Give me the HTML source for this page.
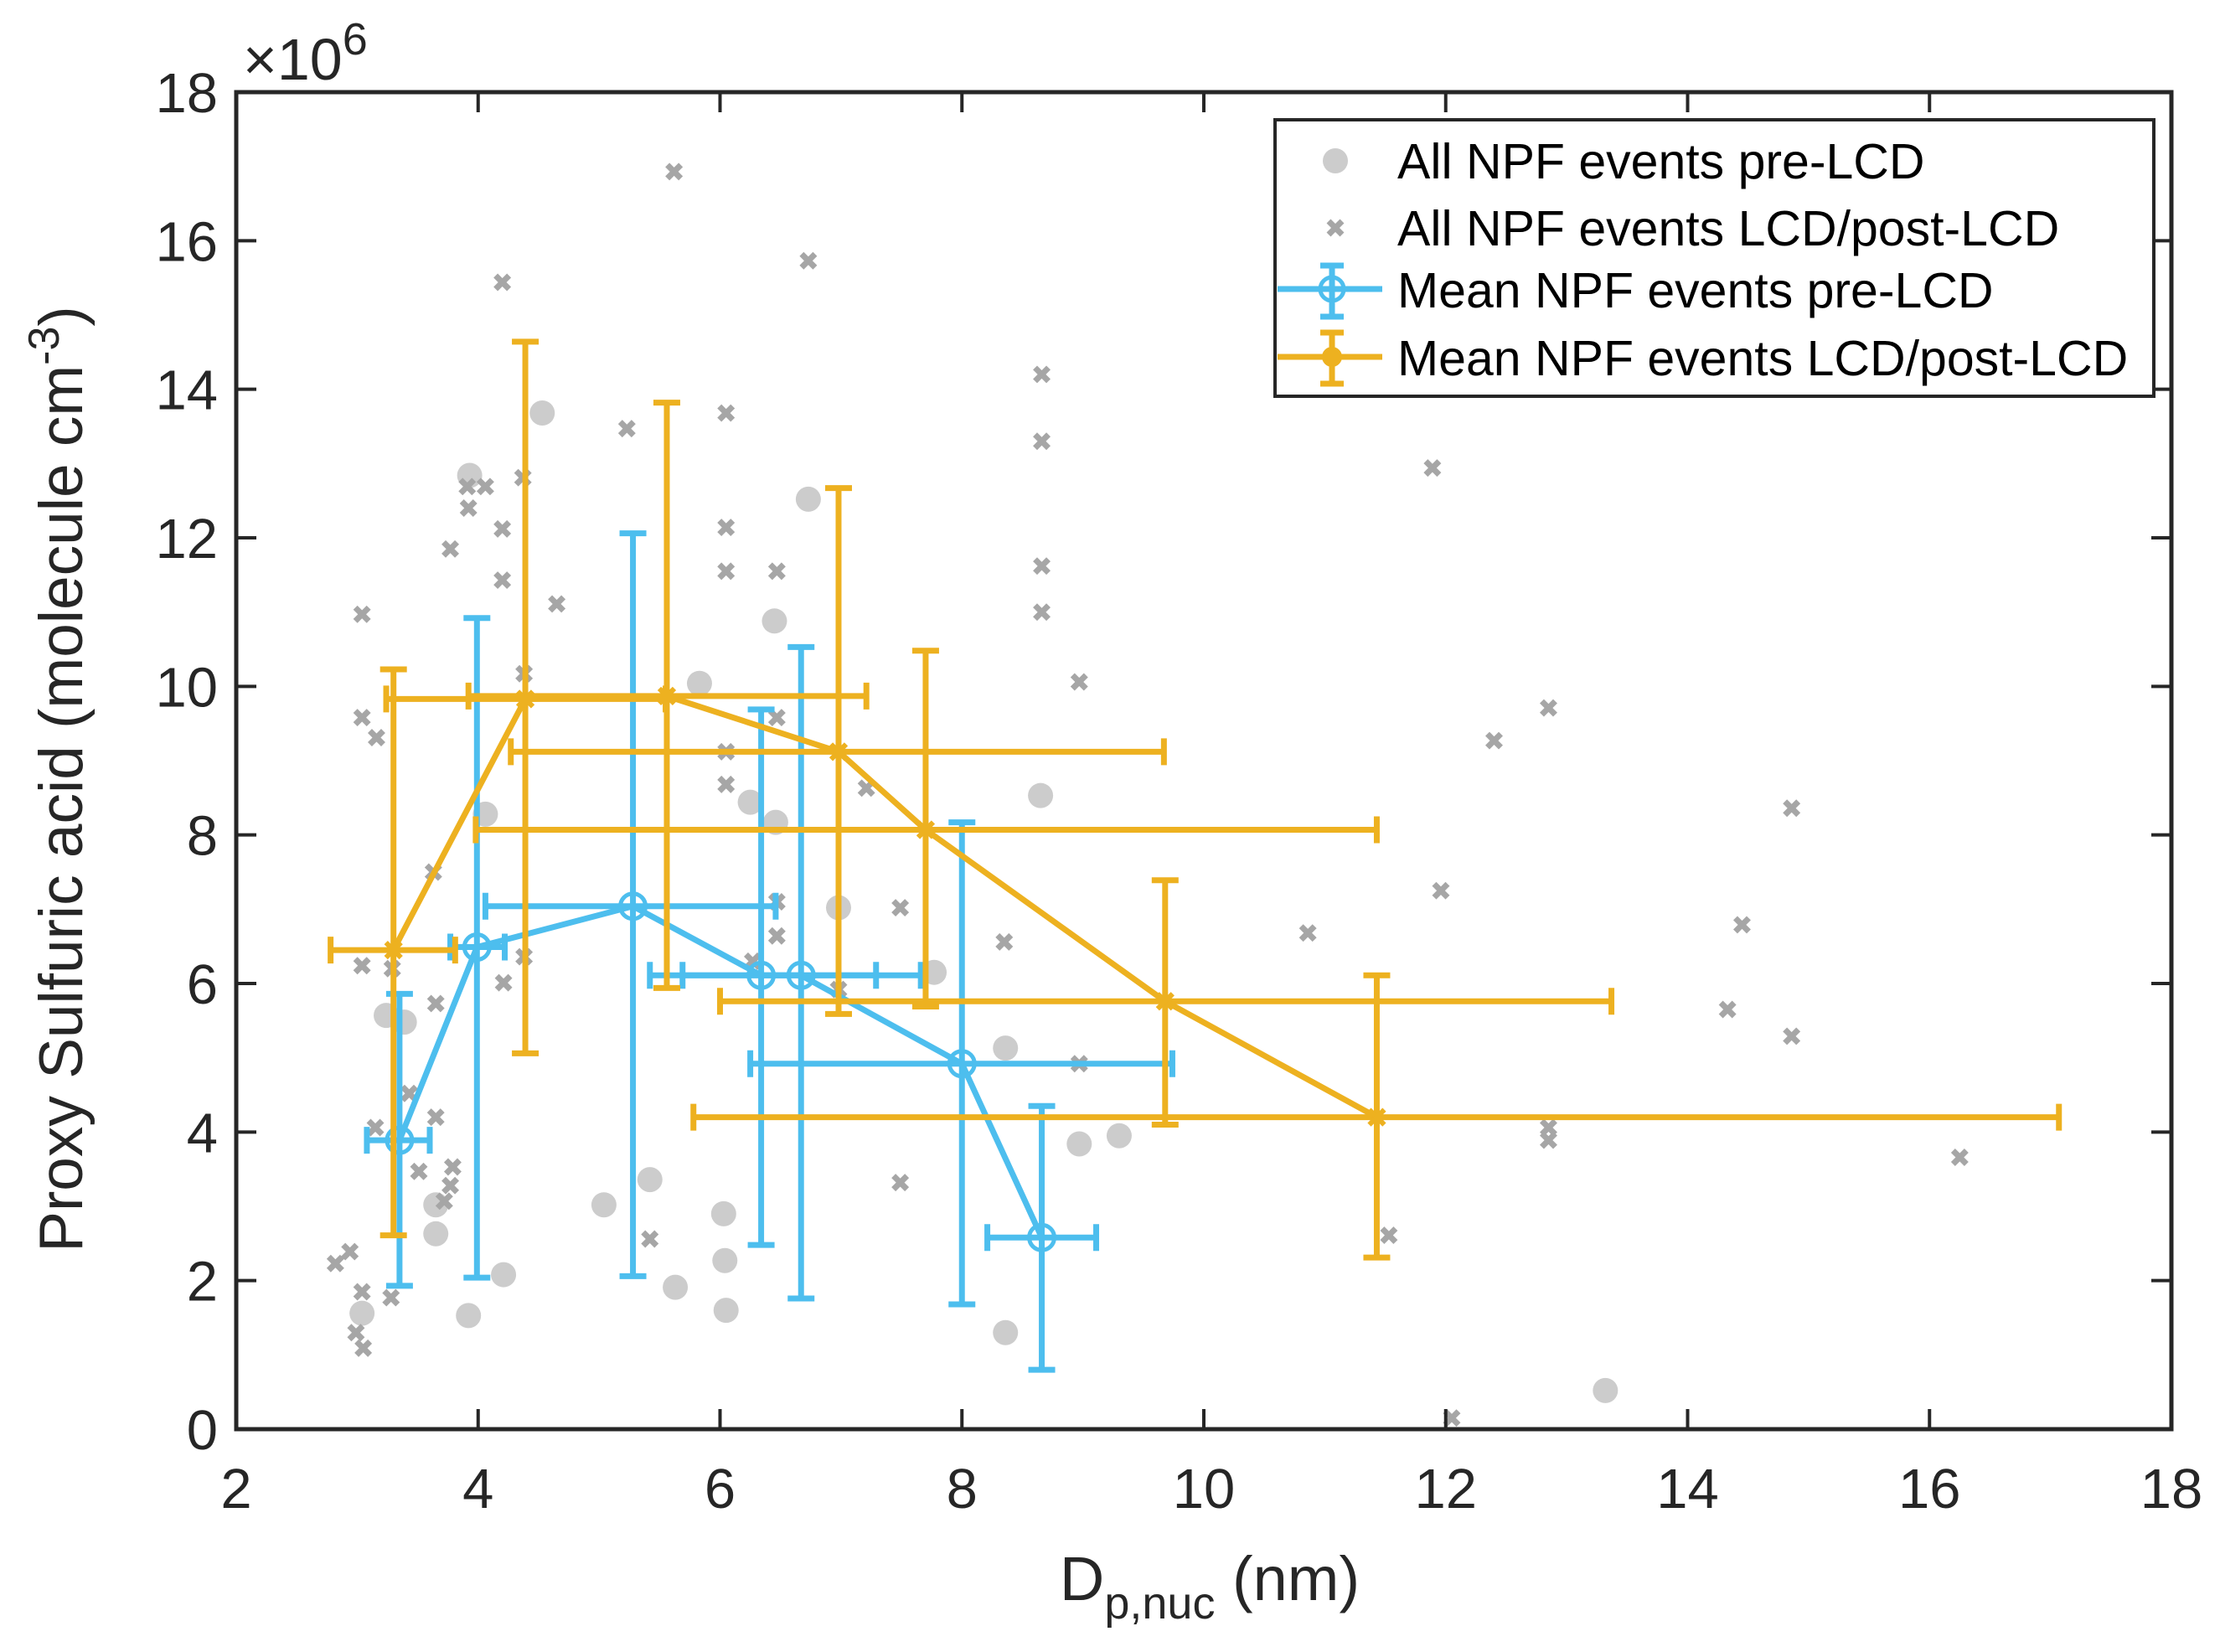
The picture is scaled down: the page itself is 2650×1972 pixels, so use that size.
<!DOCTYPE html>
<html><head><meta charset="utf-8"><style>
html,body{margin:0;padding:0;background:#fff}
svg{display:block;font-family:"Liberation Sans",Arial,sans-serif}
</style></head><body>
<svg id="chart" width="2650" height="1972" viewBox="0 0 2650 1972" xmlns="http://www.w3.org/2000/svg">
<rect x="0" y="0" width="2650" height="1972" fill="#fff"/>
<g id="marks"></g>
<g id="axes"></g>
<g id="legend"></g>
</svg>
<script>
const xTicks=[2,4,6,8,10,12,14,16,18];
const yTicks=[0,2,4,6,8,10,12,14,16,18];
const preX=[3.04,3.24,3.39,3.65,3.65,3.93,4.06,4.21,3.92,4.53,5.04,5.42,5.63,5.83,6.03,6.04,6.05,6.25,6.45,6.46,6.73,6.98,7.77,8.36,8.36,8.65,8.97,9.30,13.32];
const preY=[1.56,5.57,5.48,3.02,2.63,12.84,8.28,2.08,1.53,13.68,3.02,3.36,1.91,10.04,2.90,2.27,1.60,8.44,10.88,8.17,12.52,7.02,6.15,1.30,5.13,8.53,3.84,3.95,0.52];
const postX=[2.82,2.94,3.04,3.04,3.16,3.04,2.99,3.05,3.15,3.04,3.29,3.28,3.43,3.51,3.65,3.65,3.63,3.72,3.77,3.79,3.77,3.92,3.91,4.06,4.20,4.20,4.20,4.21,4.37,4.38,4.38,4.65,5.23,5.62,5.42,6.05,6.05,6.05,6.05,6.05,6.47,6.47,6.47,6.47,6.27,6.73,7.21,6.98,7.49,7.49,8.35,8.66,8.66,8.66,8.66,8.97,8.97,10.86,11.89,11.96,11.53,12.05,12.40,12.85,12.85,12.85,14.33,14.45,14.86,14.86,16.25];
const postY=[2.23,2.39,10.97,9.58,9.31,1.85,1.30,1.09,4.06,6.24,6.20,1.77,4.52,3.47,4.20,5.73,7.50,3.07,3.28,3.53,11.85,12.40,12.69,12.69,15.44,12.12,11.43,6.01,12.81,10.17,6.36,11.11,13.47,16.93,2.56,13.68,12.14,11.55,9.12,8.68,11.55,9.58,7.10,6.64,6.30,15.73,8.63,5.92,7.02,3.32,6.56,14.20,13.30,11.62,11.0,10.06,4.92,6.68,12.94,7.25,2.61,0.15,9.27,9.71,4.06,3.89,5.65,6.79,8.36,5.29,3.66];
const blueX=[3.35,3.99,5.28,6.34,6.67,8.0,8.66];
const blueY=[3.89,6.49,7.04,6.11,6.11,4.92,2.58];
const blueYLo=[1.93,2.04,2.06,2.48,1.76,1.68,0.80];
const blueYHi=[5.86,10.92,12.06,9.69,10.53,8.17,4.35];
const blueXLo=[3.08,3.77,4.06,5.42,5.69,6.25,8.21];
const blueXHi=[3.60,4.22,6.46,7.29,7.66,9.74,9.11];
const orX=[3.30,4.39,5.56,6.98,7.70,9.68,11.43];
const orY=[6.45,9.83,9.87,9.12,8.07,5.76,4.20];
const orYLo=[2.61,5.06,5.94,5.59,5.69,4.10,2.31];
const orYHi=[10.23,14.64,13.82,12.67,10.48,7.39,6.11];
const orXLo=[2.78,3.24,3.92,4.27,3.98,6.0,5.78];
const orXHi=[3.81,5.55,7.21,9.67,11.43,13.37,17.07];

const NS="http://www.w3.org/2000/svg";
const L=282,R=2592,T=110,B=1706;
const sx=v=>L+(v-2)/16*(R-L);
const sy=v=>B-v/18*(B-T);
function mk(tag,attrs,parent){const e=document.createElementNS(NS,tag);for(const k in attrs)e.setAttribute(k,attrs[k]);parent.appendChild(e);return e;}
const marks=document.getElementById('marks'),axes=document.getElementById('axes');
const BLUE='#4DBEEE',OR='#EDB120',CG='#cccccc',XG='#a6a6a6';
function xmark(cx,cy,h,col,w,parent){const g=mk('g',{},parent);mk('line',{x1:cx-h,y1:cy-h,x2:cx+h,y2:cy+h,stroke:col,'stroke-width':w},g);mk('line',{x1:cx-h,y1:cy+h,x2:cx+h,y2:cy-h,stroke:col,'stroke-width':w},g);return g;}
for(let i=0;i<preX.length;i++){const c=mk('circle',{cx:sx(preX[i]),cy:sy(preY[i]),r:15,fill:CG},marks);

}
for(let i=0;i<postX.length;i++){const g=xmark(sx(postX[i]),sy(postY[i]),8,XG,7,marks);

}
function series(X,Y,YL,YH,XL,XH,col,name,circ){
  const g=mk('g',{},marks);
  
  
  const W=7,C=16;
  for(let i=0;i<X.length;i++){
    const x=sx(X[i]),y=sy(Y[i]);
    mk('line',{x1:x,y1:sy(YL[i]),x2:x,y2:sy(YH[i]),stroke:col,'stroke-width':W},g);
    mk('line',{x1:x-C,y1:sy(YL[i]),x2:x+C,y2:sy(YL[i]),stroke:col,'stroke-width':W},g);
    mk('line',{x1:x-C,y1:sy(YH[i]),x2:x+C,y2:sy(YH[i]),stroke:col,'stroke-width':W},g);
    mk('line',{x1:sx(XL[i]),y1:y,x2:sx(XH[i]),y2:y,stroke:col,'stroke-width':W},g);
    mk('line',{x1:sx(XL[i]),y1:y-C,x2:sx(XL[i]),y2:y+C,stroke:col,'stroke-width':W},g);
    mk('line',{x1:sx(XH[i]),y1:y-C,x2:sx(XH[i]),y2:y+C,stroke:col,'stroke-width':W},g);
  }
  mk('polyline',{points:X.map((v,i)=>sx(v)+','+sy(Y[i])).join(' '),fill:'none',stroke:col,'stroke-width':W},g);
  for(let i=0;i<X.length;i++){
    const x=sx(X[i]),y=sy(Y[i]);
    if(circ){mk('circle',{cx:x,cy:y,r:15,fill:'none',stroke:col,'stroke-width':5},g);}
    else{xmark(x,y,9,col,6,g);}
  }
}
series(blueX,blueY,blueYLo,blueYHi,blueXLo,blueXHi,BLUE,'mean-pre-lcd-series',true);
series(orX,orY,orYLo,orYHi,orXLo,orXHi,OR,'mean-post-lcd-series',false);
const box=mk('rect',{x:L,y:T,width:R-L,height:B-T,fill:'none',stroke:'#262626','stroke-width':5},axes);


xTicks.forEach(v=>{const x=sx(v);
 mk('line',{x1:x,y1:B,x2:x,y2:B-24,stroke:'#262626','stroke-width':4},axes);
 mk('line',{x1:x,y1:T,x2:x,y2:T+24,stroke:'#262626','stroke-width':4},axes);
 const t=mk('text',{x:x,y:B+94,'font-size':67,'text-anchor':'middle',fill:'#262626'},axes);t.textContent=v;
 
 });
yTicks.forEach(v=>{const y=sy(v);
 mk('line',{x1:L,y1:y,x2:L+24,y2:y,stroke:'#262626','stroke-width':4},axes);
 mk('line',{x1:R,y1:y,x2:R-24,y2:y,stroke:'#262626','stroke-width':4},axes);
 const t=mk('text',{x:L-22,y:y+24,'font-size':67,'text-anchor':'end',fill:'#262626'},axes);t.textContent=v;
 
 });
</script>
<script>
(function(){
const axes=document.getElementById('axes');
axes.insertAdjacentHTML('beforeend',
'<text x="290" y="95" font-size="70" fill="#262626">×10<tspan dy="-30" font-size="54">6</tspan></text>'+
'<text x="1444" y="1910" font-size="74" text-anchor="middle" fill="#262626">D<tspan dy="22" font-size="54">p,nuc</tspan><tspan dy="-22"> (nm)</tspan></text>'+
'<text transform="translate(98,930) rotate(-90)" font-size="73" text-anchor="middle" fill="#262626">Proxy Sulfuric acid (molecule cm<tspan dy="-28" font-size="52">-3</tspan><tspan dy="28">)</tspan></text>');
const leg=document.getElementById('legend');
leg.insertAdjacentHTML('beforeend',
'<g><rect x="1522" y="143" width="1049" height="330" fill="#fff" stroke="#262626" stroke-width="4"/>'+
'<g><circle cx="1594" cy="192" r="15" fill="#cccccc"/><text x="1668" y="213" font-size="59" fill="#000">All NPF events pre-LCD</text></g>'+
'<g><line x1="1586" y1="264" x2="1602" y2="280" stroke="#a6a6a6" stroke-width="7"/><line x1="1586" y1="280" x2="1602" y2="264" stroke="#a6a6a6" stroke-width="7"/><text x="1668" y="293" font-size="59" fill="#000">All NPF events LCD/post-LCD</text></g>'+
'<g stroke="#4DBEEE" stroke-width="7"><line x1="1525" y1="345" x2="1650" y2="345"/><line x1="1590" y1="317" x2="1590" y2="378"/><line x1="1576" y1="317" x2="1604" y2="317"/><line x1="1576" y1="378" x2="1604" y2="378"/><circle cx="1590" cy="345" r="14" fill="none" stroke-width="5"/><text x="1668" y="367" font-size="59" fill="#000" stroke="none">Mean NPF events pre-LCD</text></g>'+
'<g stroke="#EDB120" stroke-width="7"><line x1="1525" y1="426" x2="1650" y2="426"/><line x1="1590" y1="397" x2="1590" y2="458"/><line x1="1576" y1="397" x2="1604" y2="397"/><line x1="1576" y1="458" x2="1604" y2="458"/><circle cx="1590" cy="426" r="12" fill="#EDB120" stroke="none"/><text x="1668" y="448" font-size="59" fill="#000" stroke="none">Mean NPF events LCD/post-LCD</text></g></g>');
})();
</script>
</body></html>
